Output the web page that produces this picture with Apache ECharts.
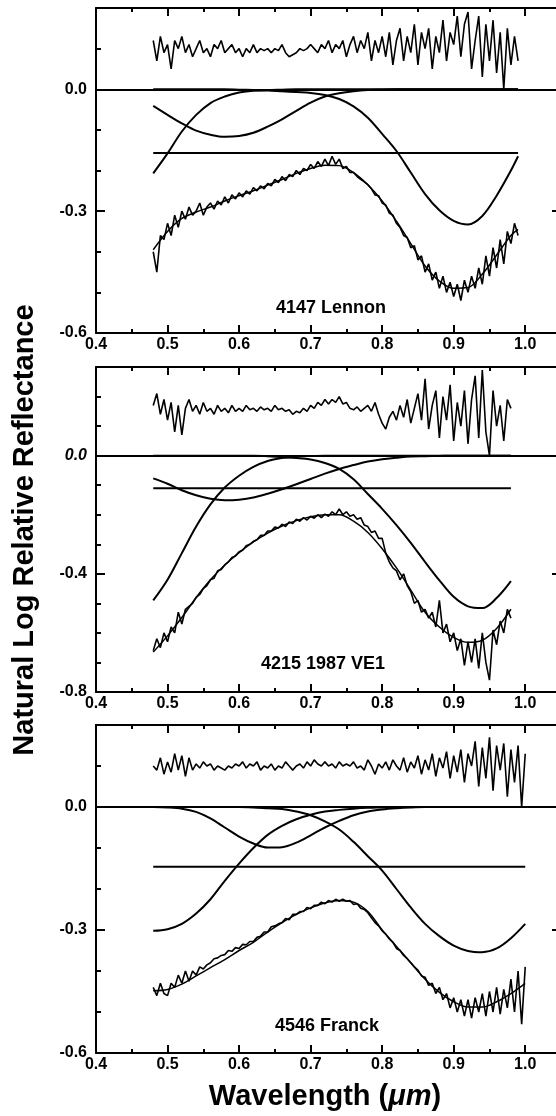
<!DOCTYPE html>
<html><head><meta charset="utf-8">
<script src="https://cdn.jsdelivr.net/npm/echarts@6/dist/echarts.min.js"></script>
<style>html,body{margin:0;padding:0;background:#fff}#c{width:556px;height:1116px}</style>
</head><body><div id="c"></div>
<script>
// ---------- tick labels / names ----------
const xTickLabels = [0.4, 0.5, 0.6, 0.7, 0.8, 0.9, 1.0];
const yTickLabels1 = [-0.6, -0.3, 0.0];
const yTickLabels2 = [-0.8, -0.4, 0.0];
const yTickLabels3 = [-0.6, -0.3, 0.0];
const panelNames = ['4147 Lennon', '4215 1987 VE1', '4546 Franck'];
const yTitle = 'Natural Log Relative Reflectance';

// ---------- panel 1 : 4147 Lennon ----------
const noisyStart1 = 0.48; // sampled every 0.005 um
const spec1 = [-0.40,-0.45,-0.36,-0.37,-0.33,-0.36,-0.31,-0.34,-0.30,-0.32,
 -0.29,-0.31,-0.30,-0.28,-0.31,-0.29,-0.28,-0.295,-0.275,-0.285,
 -0.265,-0.28,-0.26,-0.27,-0.255,-0.265,-0.25,-0.258,-0.242,-0.25,
 -0.238,-0.245,-0.232,-0.238,-0.222,-0.23,-0.215,-0.225,-0.21,-0.215,
 -0.2,-0.21,-0.195,-0.2,-0.185,-0.195,-0.178,-0.19,-0.172,-0.188,
 -0.165,-0.185,-0.172,-0.195,-0.19,-0.205,-0.205,-0.215,-0.222,-0.228,
 -0.235,-0.245,-0.26,-0.262,-0.28,-0.285,-0.305,-0.31,-0.33,-0.34,
 -0.36,-0.365,-0.39,-0.385,-0.42,-0.41,-0.45,-0.43,-0.47,-0.45,
 -0.49,-0.46,-0.5,-0.475,-0.51,-0.48,-0.52,-0.47,-0.5,-0.46,
 -0.49,-0.44,-0.48,-0.41,-0.46,-0.39,-0.44,-0.37,-0.43,-0.35,
 -0.38,-0.33,-0.36];
const resid1 = [0.12,0.07,0.13,0.09,0.11,0.05,0.12,0.10,0.13,0.09,
 0.11,0.08,0.10,0.12,0.09,0.10,0.08,0.11,0.10,0.12,
 0.09,0.10,0.11,0.09,0.10,0.08,0.10,0.09,0.11,0.09,
 0.10,0.095,0.10,0.09,0.10,0.095,0.11,0.09,0.08,0.085,
 0.09,0.10,0.095,0.10,0.11,0.10,0.09,0.11,0.10,0.12,
 0.09,0.11,0.10,0.12,0.08,0.11,0.13,0.09,0.12,0.10,
 0.14,0.07,0.12,0.09,0.13,0.08,0.14,0.06,0.12,0.15,
 0.07,0.13,0.09,0.16,0.06,0.14,0.10,0.15,0.05,0.13,
 0.09,0.17,0.07,0.14,0.11,0.18,0.08,0.16,0.19,0.05,
 0.12,0.18,0.03,0.16,0.07,0.17,0.04,0.14,0.00,0.15,
 0.06,0.13,0.07];
const smoothWl1 = [0.48,0.50,0.52,0.54,0.56,0.58,0.60,0.62,0.64,0.66,0.68,0.70,0.72,0.74,0.76,0.78,0.80,0.82,0.84,0.86,0.88,0.90,0.92,0.94,0.96,0.98,0.99];
const fit1 = [-0.395,-0.35,-0.318,-0.302,-0.29,-0.275,-0.262,-0.25,-0.236,-0.222,-0.207,-0.195,-0.187,-0.188,-0.205,-0.235,-0.275,-0.325,-0.38,-0.435,-0.472,-0.49,-0.488,-0.455,-0.408,-0.36,-0.345];
const band1A = [-0.207,-0.158,-0.104,-0.063,-0.034,-0.018,-0.008,-0.004,-0.002,-0.001,0,0,0,0,0,0,0,0,0,0,0,0,0,0,0,0,0];
const band1B = [-0.041,-0.063,-0.084,-0.102,-0.112,-0.117,-0.115,-0.107,-0.092,-0.074,-0.053,-0.033,-0.018,-0.010,-0.005,-0.002,-0.001,0,0,0,0,0,0,0,0,0,0];
const band1C = [0,0,0,0,0,0,-0.001,-0.002,-0.003,-0.005,-0.007,-0.009,-0.014,-0.024,-0.042,-0.07,-0.11,-0.152,-0.205,-0.258,-0.298,-0.324,-0.333,-0.312,-0.262,-0.2,-0.165];
const continuum1 = -0.157;

// ---------- panel 2 : 4215 1987 VE1 ----------
const noisyStart2 = 0.48;
const spec2 = [-0.66,-0.62,-0.65,-0.6,-0.63,-0.58,-0.6,-0.53,-0.57,-0.52,
 -0.51,-0.5,-0.48,-0.47,-0.45,-0.44,-0.42,-0.415,-0.39,-0.385,
 -0.37,-0.36,-0.345,-0.34,-0.325,-0.32,-0.305,-0.3,-0.29,-0.285,
 -0.27,-0.27,-0.255,-0.255,-0.242,-0.245,-0.232,-0.24,-0.225,-0.23,
 -0.215,-0.222,-0.21,-0.218,-0.205,-0.212,-0.2,-0.21,-0.198,-0.205,
 -0.19,-0.2,-0.18,-0.2,-0.19,-0.205,-0.2,-0.215,-0.21,-0.235,
 -0.24,-0.26,-0.255,-0.28,-0.28,-0.33,-0.36,-0.38,-0.39,-0.42,
 -0.4,-0.44,-0.46,-0.5,-0.49,-0.53,-0.52,-0.55,-0.53,-0.58,
 -0.49,-0.6,-0.57,-0.63,-0.6,-0.66,-0.62,-0.71,-0.63,-0.7,
 -0.62,-0.72,-0.6,-0.7,-0.76,-0.59,-0.64,-0.56,-0.6,-0.52,
 -0.55];
const resid2 = [0.17,0.21,0.14,0.19,0.12,0.18,0.08,0.17,0.07,0.16,
 0.19,0.15,0.17,0.14,0.18,0.15,0.16,0.14,0.17,0.15,
 0.16,0.145,0.17,0.15,0.16,0.15,0.17,0.155,0.16,0.15,
 0.165,0.155,0.16,0.15,0.17,0.155,0.16,0.15,0.155,0.14,
 0.15,0.145,0.16,0.15,0.17,0.16,0.18,0.17,0.19,0.175,
 0.19,0.18,0.2,0.175,0.18,0.16,0.155,0.165,0.15,0.16,
 0.17,0.15,0.18,0.14,0.11,0.09,0.13,0.15,0.12,0.17,
 0.13,0.19,0.11,0.16,0.21,0.12,0.26,0.09,0.17,0.22,
 0.06,0.2,0.12,0.24,0.05,0.18,0.1,0.22,0.04,0.19,
 0.27,0.06,0.29,0.08,0.0,0.22,0.1,0.17,0.05,0.19,
 0.16];
const smoothWl2 = [0.48,0.50,0.52,0.54,0.56,0.58,0.60,0.62,0.64,0.66,0.68,0.70,0.72,0.74,0.76,0.78,0.80,0.82,0.84,0.86,0.88,0.90,0.92,0.94,0.96,0.98];
const fit2 = [-0.665,-0.61,-0.548,-0.48,-0.42,-0.37,-0.328,-0.292,-0.262,-0.238,-0.22,-0.207,-0.2,-0.2,-0.222,-0.26,-0.315,-0.38,-0.455,-0.53,-0.58,-0.615,-0.632,-0.625,-0.585,-0.52];
const band2A = [-0.49,-0.42,-0.33,-0.24,-0.165,-0.108,-0.068,-0.038,-0.018,-0.008,-0.003,-0.001,0,0,0,0,0,0,0,0,0,0,0,0,0,0];
const band2B = [-0.077,-0.095,-0.117,-0.134,-0.146,-0.151,-0.149,-0.142,-0.129,-0.114,-0.097,-0.079,-0.061,-0.045,-0.032,-0.020,-0.012,-0.007,-0.003,-0.002,-0.001,0,0,0,0,0];
const band2C = [0,0,0,0,0,0,0,0,-0.002,-0.005,-0.008,-0.013,-0.025,-0.045,-0.08,-0.13,-0.18,-0.235,-0.295,-0.36,-0.422,-0.478,-0.51,-0.516,-0.482,-0.425];
const continuum2 = -0.11;

// ---------- panel 3 : 4546 Franck ----------
const noisyStart3 = 0.48;
const spec3 = [-0.44,-0.46,-0.43,-0.455,-0.46,-0.43,-0.44,-0.41,-0.43,-0.4,
 -0.425,-0.4,-0.41,-0.39,-0.395,-0.385,-0.38,-0.37,-0.368,-0.362,
 -0.36,-0.35,-0.352,-0.343,-0.345,-0.335,-0.336,-0.328,-0.328,-0.318,
 -0.315,-0.305,-0.305,-0.292,-0.29,-0.285,-0.282,-0.272,-0.275,-0.262,
 -0.262,-0.255,-0.255,-0.245,-0.248,-0.24,-0.24,-0.232,-0.236,-0.228,
 -0.232,-0.225,-0.23,-0.225,-0.23,-0.228,-0.238,-0.236,-0.247,-0.25,
 -0.258,-0.27,-0.282,-0.29,-0.302,-0.31,-0.322,-0.33,-0.345,-0.35,
 -0.362,-0.37,-0.38,-0.39,-0.398,-0.412,-0.415,-0.435,-0.43,-0.455,
 -0.44,-0.47,-0.455,-0.49,-0.465,-0.5,-0.47,-0.51,-0.47,-0.515,
 -0.465,-0.5,-0.455,-0.51,-0.45,-0.5,-0.44,-0.505,-0.445,-0.49,
 -0.42,-0.5,-0.4,-0.53,-0.39];
const resid3 = [0.10,0.09,0.12,0.08,0.11,0.085,0.13,0.09,0.125,0.075,
 0.12,0.09,0.105,0.095,0.11,0.1,0.105,0.09,0.1,0.095,
 0.09,0.1,0.095,0.105,0.1,0.11,0.095,0.105,0.1,0.11,
 0.09,0.1,0.095,0.105,0.09,0.1,0.095,0.11,0.1,0.09,
 0.1,0.105,0.095,0.11,0.1,0.115,0.105,0.1,0.11,0.1,
 0.105,0.095,0.11,0.1,0.105,0.1,0.11,0.095,0.1,0.09,
 0.115,0.1,0.08,0.105,0.095,0.11,0.09,0.115,0.1,0.09,
 0.12,0.085,0.11,0.095,0.125,0.08,0.115,0.09,0.13,0.075,
 0.12,0.095,0.135,0.07,0.125,0.085,0.14,0.06,0.13,0.1,
 0.16,0.05,0.145,0.07,0.17,0.04,0.15,0.09,0.155,0.025,
 0.14,0.06,0.15,0.0,0.13];
const smoothWl3 = [0.48,0.50,0.52,0.54,0.56,0.58,0.60,0.62,0.64,0.66,0.68,0.70,0.72,0.74,0.76,0.78,0.80,0.82,0.84,0.86,0.88,0.90,0.92,0.94,0.96,0.98,1.00];
const fit3 = [-0.448,-0.445,-0.432,-0.412,-0.392,-0.372,-0.35,-0.33,-0.305,-0.282,-0.262,-0.246,-0.234,-0.228,-0.232,-0.255,-0.3,-0.34,-0.38,-0.42,-0.452,-0.475,-0.488,-0.488,-0.475,-0.455,-0.43];
const band3A = [-0.302,-0.298,-0.285,-0.26,-0.225,-0.18,-0.138,-0.1,-0.068,-0.046,-0.03,-0.019,-0.011,-0.007,-0.004,-0.002,-0.001,0,0,0,0,0,0,0,0,0,0];
const band3B = [0,-0.001,-0.004,-0.012,-0.028,-0.05,-0.072,-0.089,-0.099,-0.098,-0.087,-0.069,-0.05,-0.034,-0.02,-0.011,-0.006,-0.003,-0.001,0,0,0,0,0,0,0,0];
const band3C = [0,0,0,0,0,0,0,-0.001,-0.003,-0.005,-0.011,-0.02,-0.035,-0.055,-0.085,-0.12,-0.155,-0.2,-0.245,-0.285,-0.315,-0.338,-0.351,-0.354,-0.345,-0.32,-0.285];
const continuum3 = -0.146;

// ---------- build ----------
const STEP = 0.005;
function noisyPairs(start, vals) { return vals.map((v, i) => [+(start + i * STEP).toFixed(3), v]); }
function smoothPairs(wl, vals) { return vals.map((v, i) => [wl[i], v]); }

const panels = [
  {spec: spec1, res: resid1, start: noisyStart1, wl: smoothWl1, fit: fit1, bands: [band1A, band1B, band1C], cont: continuum1,
   ymin: -0.6, ymax: 0.2, major: 0.3, labels: yTickLabels1, top: 8, height: 325, name: panelNames[0], nx: 331, ny: 308, italicZero: false},
  {spec: spec2, res: resid2, start: noisyStart2, wl: smoothWl2, fit: fit2, bands: [band2A, band2B, band2C], cont: continuum2,
   ymin: -0.8, ymax: 0.3, major: 0.4, labels: yTickLabels2, top: 367, height: 325, name: panelNames[1], nx: 323, ny: 664, italicZero: true},
  {spec: spec3, res: resid3, start: noisyStart3, wl: smoothWl3, fit: fit3, bands: [band3A, band3B, band3C], cont: continuum3,
   ymin: -0.6, ymax: 0.2, major: 0.3, labels: yTickLabels3, top: 725, height: 328, name: panelNames[2], nx: 327, ny: 1026, italicZero: false}
];

const BLACK = '#000';
const LABEL_FONT = {color: BLACK, fontFamily: 'Liberation Sans, Arial, sans-serif', fontWeight: 'bold', fontSize: 16};
const grids = [], xAxes = [], yAxes = [], series = [], graphics = [];

function inList(v, list) { return list.some(t => Math.abs(t - v) < 1e-6); }

panels.forEach((p, gi) => {
  grids.push({left: 96, width: 465, top: p.top, height: p.height, containLabel: false, outerBoundsMode: 'none'});
  const xBase = {gridIndex: gi, type: 'value', min: 0.4, max: 1.05, splitLine: {show: false}};
  xAxes.push(Object.assign({}, xBase, {position: 'bottom', interval: 0.1,
    axisLine: {onZero: false, lineStyle: {color: BLACK, width: 2}},
    axisTick: {inside: true, length: 8, lineStyle: {color: BLACK, width: 2}},
    axisLabel: Object.assign({margin: 4, showMaxLabel: false, formatter: v => inList(v, xTickLabels) ? v.toFixed(1) : ''}, LABEL_FONT)}));
  xAxes.push(Object.assign({}, xBase, {position: 'bottom', interval: 0.05,
    axisLine: {show: false, onZero: false}, axisTick: {inside: true, length: 4, lineStyle: {color: BLACK, width: 2}}, axisLabel: {show: false}}));
  xAxes.push(Object.assign({}, xBase, {position: 'top', interval: 0.1,
    axisLine: {onZero: false, lineStyle: {color: BLACK, width: 2}},
    axisTick: {inside: true, length: 8, lineStyle: {color: BLACK, width: 2}}, axisLabel: {show: false}}));
  xAxes.push(Object.assign({}, xBase, {position: 'top', interval: 0.05,
    axisLine: {show: false, onZero: false}, axisTick: {inside: true, length: 4, lineStyle: {color: BLACK, width: 2}}, axisLabel: {show: false}}));

  const yBase = {gridIndex: gi, type: 'value', min: p.ymin, max: p.ymax, splitLine: {show: false}};
  yAxes.push(Object.assign({}, yBase, {position: 'left', interval: p.major,
    axisLine: {onZero: false, lineStyle: {color: BLACK, width: 2}},
    axisTick: {inside: true, length: 9, lineStyle: {color: BLACK, width: 2}},
    axisLabel: Object.assign({margin: 9, showMaxLabel: false,
      formatter: v => {
        if (!inList(v, p.labels)) return '';
        const s = Math.abs(v) < 1e-9 ? '0.0' : v.toFixed(1);
        return (p.italicZero && Math.abs(v) < 1e-9) ? '{i|' + s + '}' : s;
      },
      rich: {i: Object.assign({fontStyle: 'italic'}, LABEL_FONT)}}, LABEL_FONT)}));
  yAxes.push(Object.assign({}, yBase, {position: 'left', interval: 0.1,
    axisLine: {show: false, onZero: false}, axisTick: {inside: true, length: 5, lineStyle: {color: BLACK, width: 2}}, axisLabel: {show: false}}));
  yAxes.push(Object.assign({}, yBase, {position: 'right', interval: p.major,
    axisLine: {onZero: false, lineStyle: {color: BLACK, width: 2}},
    axisTick: {inside: true, length: 9, lineStyle: {color: BLACK, width: 2}}, axisLabel: {show: false}}));
  yAxes.push(Object.assign({}, yBase, {position: 'right', interval: 0.1,
    axisLine: {show: false, onZero: false}, axisTick: {inside: true, length: 5, lineStyle: {color: BLACK, width: 2}}, axisLabel: {show: false}}));

  const xi = gi * 4, yi = gi * 4;
  const common = {type: 'line', xAxisIndex: xi, yAxisIndex: yi, symbol: 'none', silent: true};
  series.push(Object.assign({}, common, {data: noisyPairs(p.start, p.res), lineStyle: {color: BLACK, width: 1.6},
    markLine: {silent: true, symbol: ['none', 'none'], label: {show: false}, lineStyle: {color: BLACK, width: 2, type: 'solid'}, data: [{yAxis: 0}]}}));
  series.push(Object.assign({}, common, {data: noisyPairs(p.start, p.spec), lineStyle: {color: BLACK, width: 1.6}}));
  series.push(Object.assign({}, common, {data: smoothPairs(p.wl, p.fit), smooth: 0.35, lineStyle: {color: BLACK, width: 1.5}}));
  p.bands.forEach(b => series.push(Object.assign({}, common, {data: smoothPairs(p.wl, b), smooth: 0.35, lineStyle: {color: BLACK, width: 2}})));
  series.push(Object.assign({}, common, {data: [[p.wl[0], p.cont], [p.wl[p.wl.length - 1], p.cont]], lineStyle: {color: BLACK, width: 2}}));

  graphics.push({type: 'text', x: p.nx, y: p.ny, style: {text: p.name, fill: BLACK, font: 'bold 18px "Liberation Sans", Arial, sans-serif', align: 'center', verticalAlign: 'middle'}});
});

graphics.push({type: 'text', x: 25, y: 530, rotation: Math.PI / 2,
  style: {text: yTitle, fill: BLACK, font: 'bold 29px "Liberation Sans", Arial, sans-serif', align: 'center', verticalAlign: 'middle'}});
graphics.push({type: 'text', x: 325, y: 1097,
  style: {text: '{a|Wavelength (}{b|\u03bcm}{a|)}', fill: BLACK, align: 'center', verticalAlign: 'middle',
    rich: {a: {fontFamily: 'Liberation Sans', fontWeight: 'bold', fontSize: 29, fill: BLACK},
           b: {fontFamily: 'Liberation Sans', fontWeight: 'bold', fontStyle: 'italic', fontSize: 29, fill: BLACK}}}});

const chart = echarts.init(document.getElementById('c'), null, {renderer: 'canvas'});
chart.setOption({animation: false, backgroundColor: '#fff', grid: grids, xAxis: xAxes, yAxis: yAxes, series: series, graphic: graphics});
</script></body></html>
